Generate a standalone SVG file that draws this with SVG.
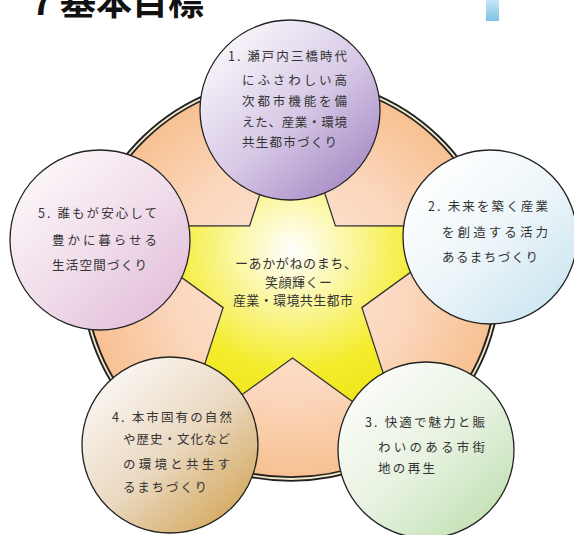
<svg xmlns="http://www.w3.org/2000/svg" width="574" height="535" viewBox="0 0 574 535">
<defs>
<radialGradient id="gBig" cx="0.5" cy="0.5" r="0.5">
<stop offset="0" stop-color="#fde6da"/>
<stop offset="0.6" stop-color="#fbd6bb"/>
<stop offset="1" stop-color="#f7c090"/>
</radialGradient>
<radialGradient id="gStar" cx="0.5" cy="0.45" r="0.5">
<stop offset="0" stop-color="#ffffff"/>
<stop offset="0.3" stop-color="#fbf7a8"/>
<stop offset="0.7" stop-color="#f4ec2c"/>
<stop offset="1" stop-color="#eee418"/>
</radialGradient>
<linearGradient id="g1" x1="0.15" y1="0.1" x2="0.9" y2="0.95">
<stop offset="0" stop-color="#f8f5fa"/>
<stop offset="0.5" stop-color="#d7c9e6"/>
<stop offset="1" stop-color="#a286c2"/>
</linearGradient>
<linearGradient id="g2" x1="0.15" y1="0.1" x2="0.9" y2="0.95">
<stop offset="0" stop-color="#ffffff"/>
<stop offset="0.5" stop-color="#ecf5f9"/>
<stop offset="1" stop-color="#c9e4f0"/>
</linearGradient>
<linearGradient id="g3" x1="0.15" y1="0.1" x2="0.9" y2="0.95">
<stop offset="0" stop-color="#fbfcf9"/>
<stop offset="0.5" stop-color="#e7f2e0"/>
<stop offset="1" stop-color="#bfdfb0"/>
</linearGradient>
<linearGradient id="g4" x1="0.15" y1="0.1" x2="0.9" y2="0.95">
<stop offset="0" stop-color="#faf6f2"/>
<stop offset="0.5" stop-color="#ead8c0"/>
<stop offset="1" stop-color="#d2a555"/>
</linearGradient>
<linearGradient id="g5" x1="0.15" y1="0.1" x2="0.9" y2="0.95">
<stop offset="0" stop-color="#fbf6f9"/>
<stop offset="0.5" stop-color="#f0dcea"/>
<stop offset="1" stop-color="#e2bcd8"/>
</linearGradient>
<linearGradient id="gBlue" x1="0" y1="0" x2="0" y2="1">
<stop offset="0" stop-color="#c6e6f6"/>
<stop offset="1" stop-color="#7cc3e6"/>
</linearGradient>
</defs>
<style>
.node circle { stroke: #222; stroke-width: 1.3; }
.t { font-family: "Noto Sans CJK JP", "Noto Sans", sans-serif; font-size: 12.5px; fill: #333; }
.ct { font-family: "Noto Sans CJK JP", "Noto Sans", sans-serif; font-size: 13px; fill: #333; }
.title { font-family: "Noto Sans CJK JP", sans-serif; font-size: 36px; font-weight: bold; fill: #111; }
</style>
<rect width="574" height="535" fill="#ffffff"/>
<g id="title">
<text class="title" x="24" y="15">７基本目標</text>
<rect x="486" y="0" width="13" height="21" fill="url(#gBlue)"/>
</g>
<g id="base">
<ellipse cx="291" cy="279" rx="207" ry="200" fill="url(#gBig)" stroke="#222" stroke-width="5.5"/>
<ellipse cx="291" cy="279" rx="207" ry="200" fill="none" stroke="#f4e8cc" stroke-width="1.8"/>
</g>
<g id="star">
<polygon points="292.5,94 335.4,225.9 474.2,226 361.9,307.6 404.8,439.5 292.5,358 180.2,439.5 223.1,307.6 110.8,226 249.6,225.9" fill="url(#gStar)" stroke="#333" stroke-width="1.3" stroke-linejoin="miter"/>
<text class="ct" x="235" y="268" textLength="122" lengthAdjust="spacing">ーあかがねのまち、</text>
<text class="ct" x="265" y="287" textLength="67" lengthAdjust="spacing">笑顔輝くー</text>
<text class="ct" x="233" y="305" textLength="120" lengthAdjust="spacing">産業・環境共生都市</text>
</g>
<g id="connectors"></g>
<g id="node1" class="node">
<circle cx="290" cy="110" r="90" fill="url(#g1)"/>
<text class="t" x="228" y="60.5" textLength="119" lengthAdjust="spacing">1. 瀬戸内三橋時代</text>
<text class="t" x="242" y="84.5" textLength="105" lengthAdjust="spacing">にふさわしい高</text>
<text class="t" x="242" y="105.5" textLength="105" lengthAdjust="spacing">次都市機能を備</text>
<text class="t" x="242" y="126.5" textLength="105" lengthAdjust="spacing">えた、産業・環境</text>
<text class="t" x="242" y="146.5" textLength="95" lengthAdjust="spacing">共生都市づくり</text>
</g>
<g id="node2" class="node">
<circle cx="490" cy="237" r="87" fill="url(#g2)"/>
<text class="t" x="428" y="210.5" textLength="120" lengthAdjust="spacing">2. 未来を築く産業</text>
<text class="t" x="442" y="236.5" textLength="106" lengthAdjust="spacing">を創造する活力</text>
<text class="t" x="442" y="261.5" textLength="96" lengthAdjust="spacing">あるまちづくり</text>
</g>
<g id="node3" class="node">
<circle cx="426" cy="450" r="88" fill="url(#g3)"/>
<text class="t" x="365" y="426.5" textLength="120" lengthAdjust="spacing">3. 快適で魅力と賑</text>
<text class="t" x="378" y="451.5" textLength="107" lengthAdjust="spacing">わいのある市街</text>
<text class="t" x="378" y="472.5" textLength="57" lengthAdjust="spacing">地の再生</text>
</g>
<g id="node4" class="node">
<circle cx="170" cy="445" r="88" fill="url(#g4)"/>
<text class="t" x="112" y="421.5" textLength="120" lengthAdjust="spacing">4. 本市固有の自然</text>
<text class="t" x="123" y="443.5" textLength="107" lengthAdjust="spacing">や歴史・文化など</text>
<text class="t" x="123" y="468.5" textLength="107" lengthAdjust="spacing">の環境と共生す</text>
<text class="t" x="123" y="491.5" textLength="84" lengthAdjust="spacing">るまちづくり</text>
</g>
<g id="node5" class="node">
<circle cx="100" cy="240" r="90" fill="url(#g5)"/>
<text class="t" x="38" y="217.5" textLength="119" lengthAdjust="spacing">5. 誰もが安心して</text>
<text class="t" x="52" y="244.5" textLength="105" lengthAdjust="spacing">豊かに暮らせる</text>
<text class="t" x="52" y="269.5" textLength="95" lengthAdjust="spacing">生活空間づくり</text>
</g>
</svg>
